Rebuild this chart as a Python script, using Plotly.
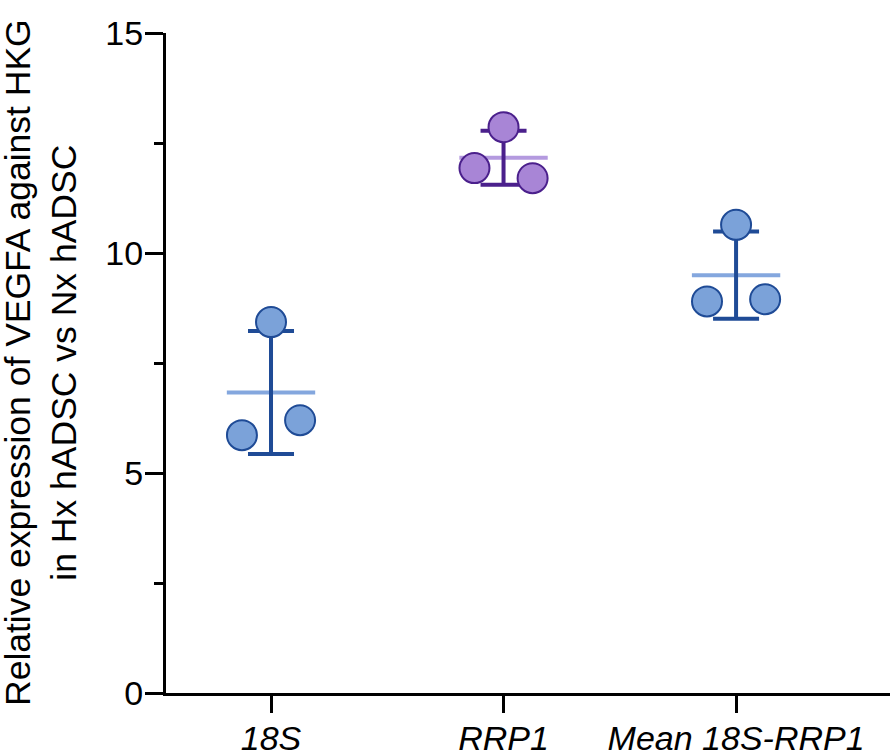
import numpy as np
import plotly.graph_objects as go

categories = ["18S", "RRP1", "Mean 18S-RRP1"]
vals_18s = [8.43, 5.86, 6.20]
vals_rrp1 = [12.86, 11.93, 11.70]
vals_mean = [10.64, 8.90, 8.95]
series = [vals_18s, vals_rrp1, vals_mean]
y_ticks = [0, 5, 10, 15]

# styles
offsets = [0.0, -0.125, 0.125]
fill_cols = ["#7BA2D9", "#A885D6", "#7BA2D9"]
edge_cols = ["#1F4B96", "#4B208C", "#1F4B96"]
mean_cols = ["#84A7DE", "#B49ADF", "#84A7DE"]
FONT = "Liberation Sans, Arial, sans-serif"

fig = go.Figure()

for i, vals in enumerate(series):
    v = np.array(vals)
    m = v.mean()
    sd = v.std(ddof=1)
    # mean line
    fig.add_trace(go.Scatter(x=[i - 0.19, i + 0.19], y=[m, m], mode="lines",
                             line=dict(color=mean_cols[i], width=4),
                             showlegend=False, hoverinfo="skip"))
    # error bar (SD)
    fig.add_trace(go.Scatter(x=[i], y=[m], mode="markers",
                             marker=dict(size=1, color="rgba(0,0,0,0)"),
                             error_y=dict(type="data", array=[sd], visible=True,
                                          color=edge_cols[i], thickness=4, width=23),
                             showlegend=False, hoverinfo="skip"))
    # points
    fig.add_trace(go.Scatter(x=[i + o for o in offsets], y=vals, mode="markers",
                             marker=dict(size=30, color=fill_cols[i],
                                         line=dict(color=edge_cols[i], width=2)),
                             showlegend=False))

fig.update_layout(
    width=892, height=756,
    margin=dict(l=166, r=2, t=33, b=63),
    paper_bgcolor="white", plot_bgcolor="white",
    font=dict(family=FONT, size=34, color="black"),
    xaxis=dict(range=[-0.4516, 2.662], tickmode="array", tickvals=[0, 1, 2],
               ticktext=categories, showline=True, linecolor="black", linewidth=3,
               ticks="outside", ticklen=17, tickwidth=3, tickcolor="black",
               automargin=False, ticklabelstandoff=-4,
               tickfont=dict(family=FONT, size=34, style="italic", color="black"),
               showgrid=False, zeroline=False),
    yaxis=dict(range=[0, 15], tickmode="array", tickvals=y_ticks,
               showline=True, linecolor="black", linewidth=3,
               ticks="outside", ticklen=18, tickwidth=3, tickcolor="black",
               automargin=False, ticklabelstandoff=-5,
               tickfont=dict(family=FONT, size=34, color="black"),
               minor=dict(tickmode="linear", tick0=0, dtick=2.5, ticks="outside",
                          ticklen=9, tickwidth=3, tickcolor="black"),
               showgrid=False, zeroline=False),
    annotations=[dict(text="Relative expression of VEGFA against HKG<br>in Hx hADSC vs Nx hADSC",
                      xref="paper", yref="paper", x=0, y=0.5, xshift=-125,
                      xanchor="center", yanchor="middle", textangle=-90,
                      showarrow=False, font=dict(family=FONT, size=35.5, color="black"))],
)

# remove the page's default body margin so the figure fills the window exactly
fig.write_html("out.html", config={"displayModeBar": False},
               post_script="document.body.style.margin='0';")
